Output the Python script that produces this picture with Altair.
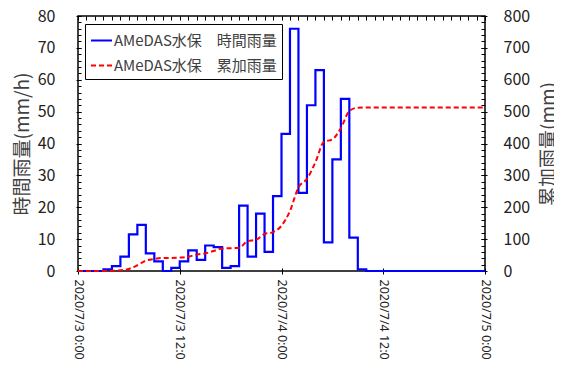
import altair as alt
import pandas as pd

FONT = "Noto Sans CJK JP"

series_hourly = "AMeDAS水保\u3000時間雨量"
series_cum = "AMeDAS水保\u3000累加雨量"

# hours elapsed since 2020/7/3 0:00
hour_index = list(range(49))

# hourly rainfall (mm/h), value held from hour h to h+1 (last entry = end point)
hourly_rain = [0, 0, 0, 0.5, 1.5, 4.5, 11.5, 14.5, 5.5, 3,
               0, 1, 3, 6.5, 3.5, 8, 7.5, 1, 1.5, 20.5,
               4.5, 18, 6, 23.5, 43, 76, 24.5, 52, 63, 9,
               35, 54, 10.5, 0.5, 0, 0, 0, 0, 0, 0,
               0, 0, 0, 0, 0, 0, 0, 0, 0]

# cumulative rainfall (mm) at each hour
cum_rain = [0, 0, 0, 0, 0.5, 2, 6.5, 18, 32.5, 38,
            41, 41, 42, 45, 51.5, 55, 63, 70.5, 71.5, 73,
            93.5, 98, 116, 122, 142, 188.5, 262, 289, 341, 405,
            413, 448, 502, 512.5, 513, 513, 513, 513, 513, 513,
            513, 513, 513, 513, 513, 513, 513, 513, 513]

left_ticks = [0, 10, 20, 30, 40, 50, 60, 70, 80]
right_ticks = [0, 100, 200, 300, 400, 500, 600, 700, 800]
x_label_hours = [0, 12, 24, 36, 48]

start = pd.Timestamp("2020-07-03 00:00")
times = [start + pd.Timedelta(hours=h) for h in hour_index]


def dt(h):
    t = start + pd.Timedelta(hours=h)
    return alt.DateTime(year=t.year, month=t.month, date=t.day, hours=t.hour)


df_h = pd.DataFrame({"time": times, "value": hourly_rain, "series": series_hourly})
df_c = pd.DataFrame({"time": times, "value": cum_rain, "series": series_cum})

x_scale = alt.Scale(domain=[dt(0), dt(48)])

color_scale = alt.Scale(domain=[series_hourly, series_cum], range=["#0000ff", "#ff0000"])
dash_scale = alt.Scale(domain=[series_hourly, series_cum], range=[[1, 0], [5, 3]])

legend = alt.Legend(
    title=None, orient="none", legendX=7, legendY=8,
    symbolType="stroke", symbolSize=441, symbolStrokeWidth=2,
    labelFont=FONT, labelFontSize=15, labelColor="#404040", labelLimit=300,
    labelOffset=1, rowPadding=5, padding=5,
    strokeColor="black", fillColor="white",
)

x_major = alt.Axis(
    values=[dt(h) for h in x_label_hours], format="%Y/%-m/%-d %-H:%M", formatType="time",
    labelAngle=90, labelAlign="left", labelBaseline="middle", labelFont="Noto Sans",
    labelFontSize=12.5, labelColor="#222222", labelPadding=5, labelOverlap=False, labelFlush=False,
    tickSize=6, tickColor="black", tickWidth=1, offset=-3, domain=False, grid=False, title=None,
)
x_minor = alt.Axis(
    values=[dt(h) for h in hour_index], labels=False, tickSize=4, tickColor="black",
    tickWidth=1, offset=-4, domain=False, grid=False, title=None,
)

y_left = alt.Axis(
    orient="left", values=left_ticks, labelFont=FONT, labelFontSize=16, labelColor="#222222",
    labelPadding=21, tickSize=5, tickColor="black", offset=-3, domain=False, grid=False,
    title="時間雨量(mm/h)", titleFont=FONT, titleFontSize=19, titleFontWeight="normal",
    titleColor="#404040", titlePadding=5,
)
y_left_minor = alt.Axis(
    orient="left", values=list(range(0, 81, 2)), labels=False, tickSize=3, tickColor="black",
    offset=-3, domain=False, grid=False, title=None,
)
y_right = alt.Axis(
    orient="right", values=right_ticks, labelFont=FONT, labelFontSize=16, labelColor="#222222",
    labelPadding=16, tickSize=6, tickColor="black", offset=-4, domain=False, grid=False,
    title="累加雨量(mm)", titleFont=FONT, titleFontSize=19, titleFontWeight="normal",
    titleColor="#404040", titlePadding=10, titleAngle=270, titleBaseline="top",
)
y_right_minor = alt.Axis(
    orient="right", values=list(range(0, 801, 20)), labels=False, tickSize=4, tickColor="black",
    offset=-4, domain=False, grid=False, title=None,
)

blue = alt.Chart(df_h).mark_line(interpolate="step-after", strokeWidth=2.2, strokeJoin="miter").encode(
    x=alt.X("time:T", scale=x_scale, axis=x_major),
    y=alt.Y("value:Q", scale=alt.Scale(domain=[0, 80], nice=False), axis=y_left),
    color=alt.Color("series:N", scale=color_scale, legend=legend),
    strokeDash=alt.StrokeDash("series:N", scale=dash_scale, legend=legend),
)

red = alt.Chart(df_c).mark_line(interpolate="monotone", strokeWidth=2).encode(
    x=alt.X("time:T", scale=x_scale, axis=x_minor),
    y=alt.Y("value:Q", scale=alt.Scale(domain=[0, 800], nice=False), axis=y_right),
    color=alt.Color("series:N", scale=color_scale, legend=legend),
    strokeDash=alt.StrokeDash("series:N", scale=dash_scale, legend=legend),
)

left_minor = alt.Chart(df_h).mark_line(opacity=0).encode(
    x=alt.X("time:T", scale=x_scale, axis=None),
    y=alt.Y("value:Q", scale=alt.Scale(domain=[0, 80], nice=False), axis=y_left_minor),
)

right_minor = alt.Chart(df_c).mark_line(opacity=0).encode(
    x=alt.X("time:T", scale=x_scale, axis=None),
    y=alt.Y("value:Q", scale=alt.Scale(domain=[0, 800], nice=False), axis=y_right_minor),
)

chart = alt.layer(blue, red, left_minor, right_minor).resolve_scale(
    y="independent"
).resolve_axis(
    x="independent", y="independent"
).properties(
    width=407, height=255,
    autosize=alt.AutoSizeParams(type="none"),
    padding={"left": 70, "top": 8, "right": 69, "bottom": 88},
).configure_view(
    stroke="black", strokeWidth=1.5
)

chart.save("out.html", embed_options={"renderer": "svg", "actions": False})
